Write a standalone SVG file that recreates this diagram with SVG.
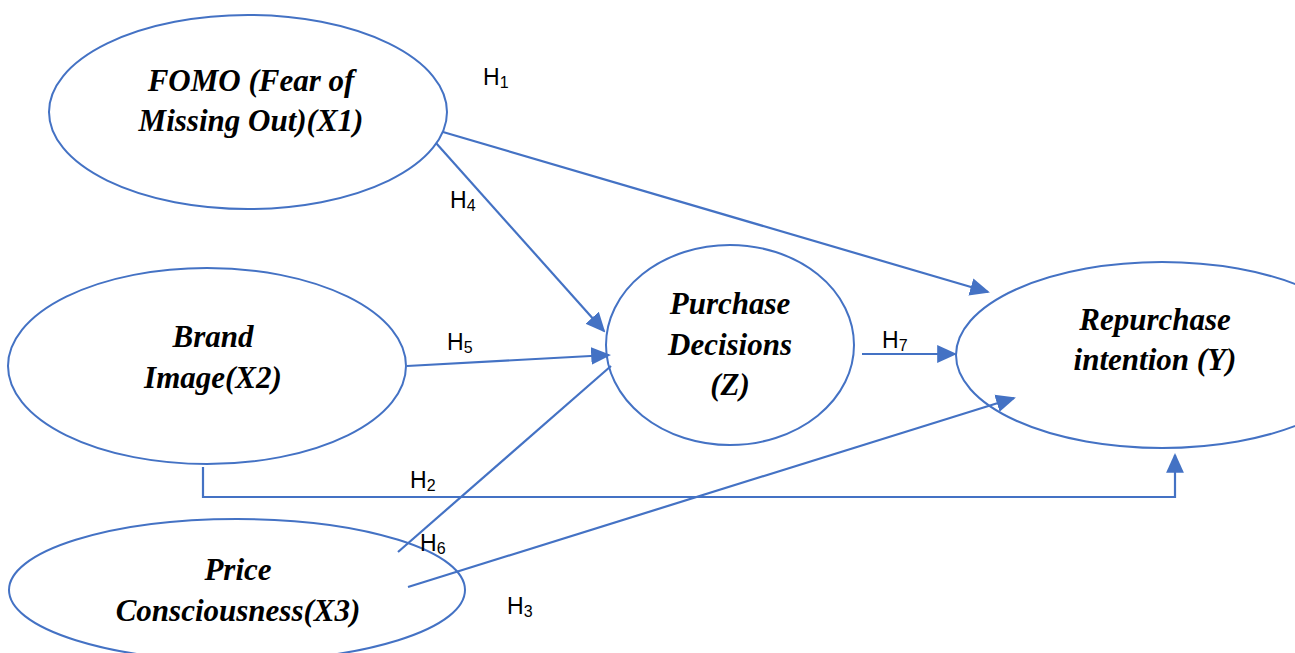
<svg xmlns="http://www.w3.org/2000/svg" width="1295" height="653" viewBox="0 0 1295 653">
  <style>
    .node { fill: none; stroke: #4472c4; stroke-width: 2; }
    .label { font-family: "Liberation Serif", "Times New Roman", serif; font-size: 31px; font-weight: bold; font-style: italic; fill: #000000; text-anchor: middle; }
    .edge { fill: none; stroke: #4472c4; stroke-width: 2.2; }
    .hyp { font-family: "Liberation Sans", Arial, sans-serif; font-size: 23px; fill: #000000; }
    .sub { font-size: 16px; }
  </style>
  <defs>
    <marker id="head" viewBox="0 0 10 10" refX="9" refY="5" markerWidth="9" markerHeight="9" markerUnits="strokeWidth" orient="auto">
      <path d="M0,0.5 L10,5 L0,9.5 Z" fill="#4472c4"/>
    </marker>
  </defs>

  <g id="fomo">
    <ellipse class="node" cx="248" cy="112" rx="199" ry="97"/>
    <text class="label" x="251" y="91">FOMO (Fear of</text>
    <text class="label" x="251" y="131">Missing Out)(X1)</text>
  </g>

  <g id="brand">
    <ellipse class="node" cx="207" cy="366" rx="199" ry="98"/>
    <text class="label" x="213" y="347">Brand</text>
    <text class="label" x="213" y="388">Image(X2)</text>
  </g>

  <g id="price">
    <ellipse class="node" cx="237" cy="590" rx="228" ry="71"/>
    <text class="label" x="238" y="580">Price</text>
    <text class="label" x="238" y="621">Consciousness(X3)</text>
  </g>

  <g id="purchase">
    <ellipse class="node" cx="730" cy="345" rx="124" ry="100"/>
    <text class="label" x="730" y="314">Purchase</text>
    <text class="label" x="730" y="355">Decisions</text>
    <text class="label" x="730" y="395">(Z)</text>
  </g>

  <g id="repurchase">
    <ellipse class="node" cx="1162" cy="355" rx="206" ry="93"/>
    <text class="label" x="1155" y="330">Repurchase</text>
    <text class="label" x="1155" y="370">intention (Y)</text>
  </g>

  <g id="connectors">
    <line class="edge" x1="443" y1="132" x2="988" y2="292" marker-end="url(#head)"/>
    <line class="edge" x1="436" y1="143" x2="604" y2="331" marker-end="url(#head)"/>
    <line class="edge" x1="407" y1="366" x2="609" y2="355" marker-end="url(#head)"/>
    <line class="edge" x1="398" y1="552" x2="611" y2="366"/>
    <line class="edge" x1="408" y1="587" x2="1014" y2="398" marker-end="url(#head)"/>
    <line class="edge" x1="862" y1="354" x2="955" y2="354" marker-end="url(#head)"/>
    <polyline class="edge" points="203,467 203,497 1175,497 1175,455" marker-end="url(#head)"/>
  </g>

  <g id="hypotheses">
    <text class="hyp" x="483" y="85">H<tspan class="sub" dy="3">1</tspan></text>
    <text class="hyp" x="450" y="208">H<tspan class="sub" dy="3">4</tspan></text>
    <text class="hyp" x="447" y="350">H<tspan class="sub" dy="3">5</tspan></text>
    <text class="hyp" x="882" y="348">H<tspan class="sub" dy="3">7</tspan></text>
    <text class="hyp" x="410" y="488">H<tspan class="sub" dy="3">2</tspan></text>
    <text class="hyp" x="420" y="551">H<tspan class="sub" dy="3">6</tspan></text>
    <text class="hyp" x="507" y="614">H<tspan class="sub" dy="3">3</tspan></text>
  </g>
</svg>
